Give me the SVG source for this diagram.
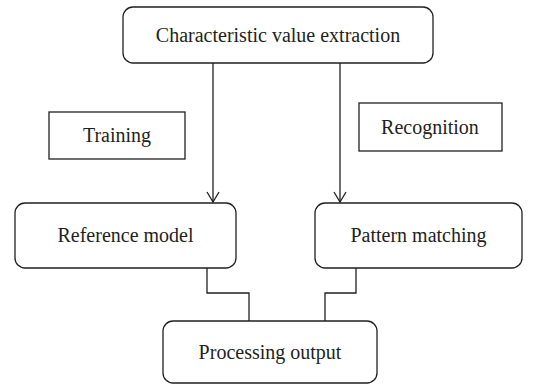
<svg xmlns="http://www.w3.org/2000/svg" width="545" height="385" viewBox="0 0 545 385">
<defs>
<style>
.box{fill:#fff;stroke:#231f20;stroke-width:1.3}
.lbl{fill:#231f20;font-family:"Liberation Serif","Times New Roman",serif;font-size:20px;text-anchor:middle}
.con{fill:none;stroke:#231f20;stroke-width:1.3}
</style>
<marker id="arr" markerWidth="14" markerHeight="14" refX="12" refY="7" orient="auto" markerUnits="userSpaceOnUse" viewBox="0 0 14 14">
<path d="M2,1 L12,7 L2,13" fill="none" stroke="#231f20" stroke-width="1.3"/>
</marker>
</defs>
<rect width="545" height="385" fill="#fff"/>
<g id="connectors">
<line class="con" x1="213" y1="63" x2="213" y2="202" marker-end="url(#arr)"/>
<line class="con" x1="340" y1="63" x2="340" y2="202" marker-end="url(#arr)"/>
<polyline class="con" points="207,268 207,293 249,293 249,321"/>
<polyline class="con" points="356,268 356,293 325,293 325,321"/>
</g>
<g id="n-extract">
<rect class="box" x="123" y="7" width="310" height="56" rx="10"/>
<text class="lbl" x="278" y="42">Characteristic value extraction</text>
</g>
<g id="n-training">
<rect class="box" x="49" y="112" width="136" height="47"/>
<text class="lbl" x="117" y="142">Training</text>
</g>
<g id="n-recognition">
<rect class="box" x="359" y="103" width="143" height="48"/>
<text class="lbl" x="430" y="134">Recognition</text>
</g>
<g id="n-reference">
<rect class="box" x="15" y="203" width="221" height="65" rx="10"/>
<text class="lbl" x="125.5" y="242">Reference model</text>
</g>
<g id="n-pattern">
<rect class="box" x="315" y="203" width="207" height="65" rx="10"/>
<text class="lbl" x="418.5" y="242">Pattern matching</text>
</g>
<g id="n-output">
<rect class="box" x="163" y="321" width="214" height="62" rx="10"/>
<text class="lbl" x="270" y="359">Processing output</text>
</g>
</svg>
